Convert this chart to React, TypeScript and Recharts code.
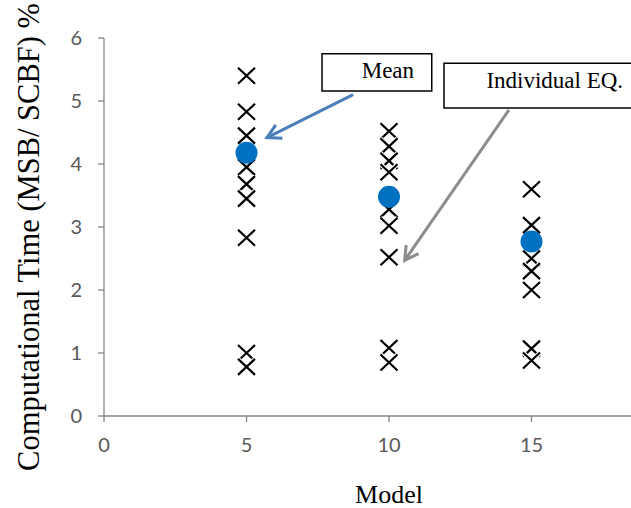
import { ScatterChart, Scatter, XAxis, YAxis, ReferenceArea, ReferenceLine } from 'recharts';

// model sizes on the x axis
const models = [5, 10, 15];

// individual EQ ratios per model
const model5Values = [5.4, 4.83, 4.45, 3.95, 3.68, 3.45, 2.83, 1.0, 0.78];
const model10Values = [4.52, 4.28, 4.05, 3.87, 3.28, 3.02, 2.52, 1.08, 0.85];
const model15Values = [3.6, 3.03, 2.5, 2.3, 2.0, 1.07, 0.88];

// mean ratio per model
const meanValues = [4.18, 3.48, 2.77];

const xTicks = [0, 5, 10, 15];
const yTicks = [0, 1, 2, 3, 4, 5, 6];

const individualData = [model5Values, model10Values, model15Values].flatMap((vals, i) =>
  vals.map((v) => ({ x: models[i], y: v }))
);
const meanData = meanValues.map((v, i) => ({ x: models[i], y: v }));

const tickStyle = { fontFamily: 'Lato, "Open Sans", sans-serif', fontSize: 20, fill: '#595959' };
const serif = '"Liberation Serif", "DejaVu Serif", serif';

// X marker with a thin white halo, like the spreadsheet export
const Cross = (props: any) => {
  const { cx, cy } = props;
  const d = `M${cx - 8.5},${cy - 8}L${cx + 8.5},${cy + 8}M${cx - 8.5},${cy + 8}L${cx + 8.5},${cy - 8}`;
  return (
    <g>
      <path d={d} stroke="#fff" strokeWidth={4.5} />
      <path d={d} stroke="#000" strokeWidth={2.2} />
    </g>
  );
};

const Dot = (props: any) => <circle cx={props.cx} cy={props.cy} r={11} fill="#0070C0" />;

const boxText = (text: string, dx: number, dy: number) => (p: any) => {
  const vb = p.viewBox;
  return (
    <text
      x={vb.x + vb.width / 2 + dx}
      y={vb.y + vb.height / 2 + dy}
      textAnchor="middle"
      dominantBaseline="central"
      fontFamily={serif}
      fontSize={23}
      fill="#000"
    >
      {text}
    </text>
  );
};

const arrow = (marker: string) => (p: any) => (
  <line x1={p.x1} y1={p.y1} x2={p.x2} y2={p.y2} stroke={p.stroke} strokeWidth={3} markerEnd={`url(#${marker})`} />
);

export default function App() {
  return (
    <div style={{ position: 'absolute', left: 0, top: 0, width: 631, height: 508, overflow: 'hidden', background: '#fff' }}>
      <svg width={0} height={0} style={{ position: 'absolute' }}>
        <defs>
          <marker id="arrBlue" viewBox="0 0 12 12" refX={10} refY={6} markerWidth={6} markerHeight={6} orient="auto" markerUnits="strokeWidth">
            <path d="M1,1 L10,6 L1,11" fill="none" stroke="#4A7EBB" strokeWidth={2} />
          </marker>
          <marker id="arrGray" viewBox="0 0 12 12" refX={10} refY={6} markerWidth={6} markerHeight={6} orient="auto" markerUnits="strokeWidth">
            <path d="M1,1 L10,6 L1,11" fill="none" stroke="#8C8C8C" strokeWidth={2} />
          </marker>
        </defs>
      </svg>
      <ScatterChart width={674} height={508} margin={{ top: 38, right: 0, bottom: 0, left: 0 }}>
        <XAxis
          type="number"
          dataKey="x"
          domain={[0, 20]}
          ticks={xTicks}
          height={92}
          tick={tickStyle}
          tickSize={6}
          tickMargin={16}
          axisLine={{ stroke: '#868686', strokeWidth: 1.3 }}
          tickLine={{ stroke: '#868686', strokeWidth: 1.3 }}
          label={{ value: 'Model', position: 'insideBottom', offset: 5, style: { fontFamily: serif, fontSize: 26, fill: '#000' } }}
        />
        <YAxis
          type="number"
          dataKey="y"
          domain={[0, 6]}
          ticks={yTicks}
          width={104}
          tick={tickStyle}
          tickSize={6}
          tickMargin={16}
          axisLine={{ stroke: '#868686', strokeWidth: 1.3 }}
          tickLine={{ stroke: '#868686', strokeWidth: 1.3 }}
          label={{
            content: (p: any) => {
              const vb = p.viewBox;
              const cx = 29;
              const cy = vb.y + vb.height / 2 + 10;
              return (
                <text
                  x={cx}
                  y={cy}
                  transform={`rotate(-90 ${cx} ${cy})`}
                  textAnchor="middle"
                  dominantBaseline="central"
                  fontFamily={serif}
                  fontSize={30.5}
                  fill="#000"
                >
                  Computational Time (MSB/ SCBF) %
                </text>
              );
            },
          }}
        />
        <Scatter data={individualData} shape={Cross} isAnimationActive={false} />
        <Scatter data={meanData} shape={Dot} isAnimationActive={false} />
        <ReferenceArea x1={7.65} x2={11.5} y1={5.16} y2={5.75} fill="#fff" fillOpacity={1} stroke="#000" strokeWidth={1.5} label={{ content: boxText('Mean', 11, -2) }} />
        <ReferenceArea x1={11.93} x2={19.7} y1={4.89} y2={5.6} fill="#fff" fillOpacity={1} stroke="#000" strokeWidth={1.5} label={{ content: boxText('Individual EQ.', 0, -5) }} />
        <ReferenceLine segment={[{ x: 8.74, y: 5.1 }, { x: 5.72, y: 4.42 }]} stroke="#4A7EBB" shape={arrow('arrBlue')} />
        <ReferenceLine segment={[{ x: 14.21, y: 4.86 }, { x: 10.55, y: 2.47 }]} stroke="#8C8C8C" shape={arrow('arrGray')} />
      </ScatterChart>
    </div>
  );
}
